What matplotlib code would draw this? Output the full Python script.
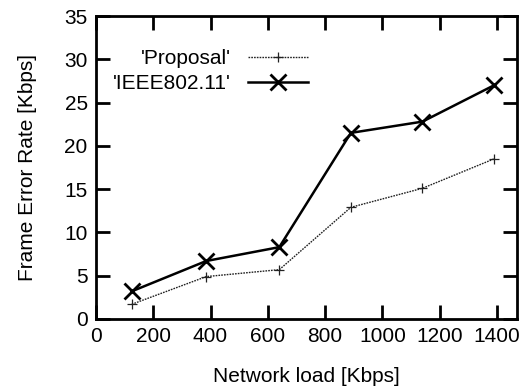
import matplotlib
matplotlib.use("Agg")
import matplotlib.pyplot as plt

plt.rcParams['font.family'] = ['Liberation Sans', 'DejaVu Sans']

load = [125, 385, 640, 890, 1140, 1390]
proposal = [1.7, 4.9, 5.7, 12.9, 15.1, 18.5]
ieee = [3.2, 6.7, 8.3, 21.5, 22.8, 27.0]
xticks = [0, 200, 400, 600, 800, 1000, 1200, 1400]
yticks = [0, 5, 10, 15, 20, 25, 30, 35]

fig = plt.figure(figsize=(5.24, 3.87), dpi=100)
ax = fig.add_axes([96/524, 1 - 319/387, (517-96)/524, (319-16)/387])

ax.plot(load, proposal, color='#222222', lw=1.0, ls=(0, (1.2, 0.8)),
        marker='+', ms=7, mew=0.9, label="'Proposal'")
ax.plot(load, ieee, color='black', lw=1.8, ls='-',
        marker='x', ms=11, mew=2.0, label="'IEEE802.11'")

ax.set_xlim(0, 1470)
ax.set_ylim(0, 35)
ax.set_xticks(xticks)
ax.set_yticks(yticks)
ax.tick_params(direction='in', length=10, width=2.0, top=True, right=True,
               labelsize=15, pad=6)
for s in ax.spines.values():
    s.set_linewidth(2.0)

ax.set_xlabel('Network load [Kbps]', fontsize=15, labelpad=15)
ax.set_ylabel('Frame Error Rate [Kbps]', fontsize=15, labelpad=20)

ax.legend(loc='center right', bbox_to_anchor=((308-96)/421, 1-(71-16)/303),
          frameon=False, markerfirst=False, handlelength=2.9, fontsize=15,
          labelspacing=0.3, handletextpad=0.8, borderpad=0, borderaxespad=0)

fig.savefig('out.png', dpi=100)
